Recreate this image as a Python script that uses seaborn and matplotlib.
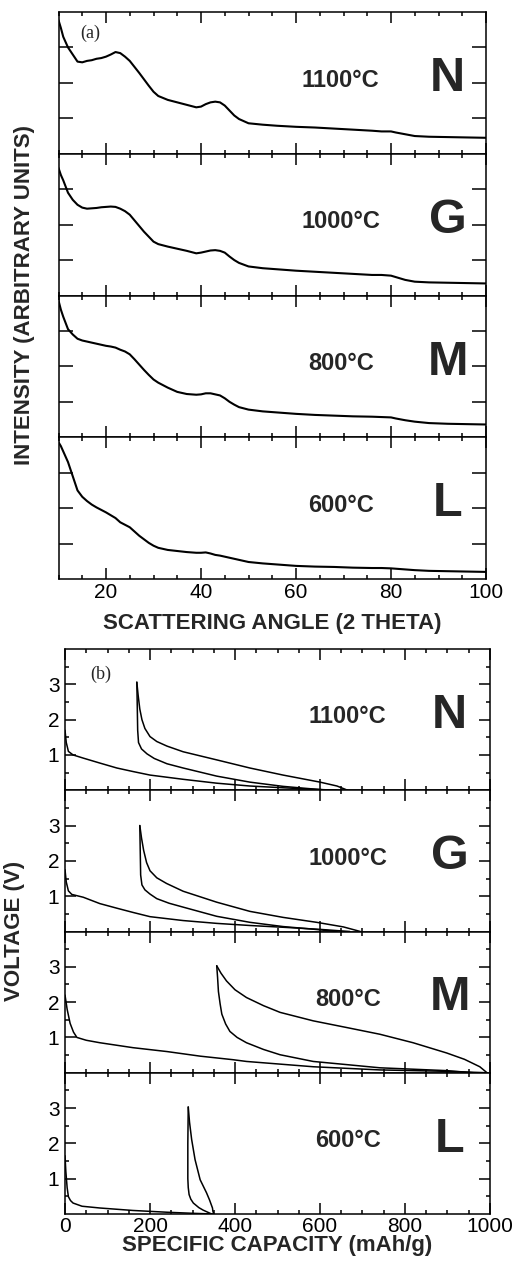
import numpy as np
import pandas as pd
import matplotlib
matplotlib.use("Agg")
import matplotlib.pyplot as plt
from matplotlib.ticker import MultipleLocator, FixedLocator, NullFormatter
import seaborn as sns

# ---- data ----
samples = ["N", "G", "M", "L"]
temps = ["1100°C", "1000°C", "800°C", "600°C"]

# (a) XRD patterns, intensity in arbitrary units (panel scale 0-4)
angle = [10, 10.5, 11, 12, 13, 14, 15, 16, 17, 18, 19, 20, 21, 22, 23, 24, 25, 26, 27, 28,
         29, 30, 31, 33, 35, 37, 39, 40, 41, 42, 43, 44, 45, 46, 47, 48, 50, 53, 56, 60,
         64, 68, 72, 76, 78, 80, 81, 83, 85, 88, 92, 96, 100]
xrd_N = [3.77, 3.55, 3.30, 3.00, 2.80, 2.60, 2.58, 2.62, 2.64, 2.68, 2.70, 2.74, 2.80, 2.87,
         2.84, 2.74, 2.62, 2.45, 2.28, 2.10, 1.92, 1.75, 1.63, 1.52, 1.45, 1.38, 1.31, 1.33,
         1.40, 1.45, 1.47, 1.45, 1.36, 1.22, 1.08, 0.98, 0.86, 0.82, 0.79, 0.76, 0.74, 0.71,
         0.68, 0.65, 0.63, 0.63, 0.60, 0.55, 0.50, 0.48, 0.47, 0.46, 0.45]
xrd_G = [3.60, 3.40, 3.25, 2.90, 2.70, 2.56, 2.48, 2.45, 2.46, 2.47, 2.49, 2.50, 2.51, 2.50,
         2.45, 2.38, 2.28, 2.12, 1.96, 1.80, 1.66, 1.52, 1.45, 1.38, 1.32, 1.26, 1.19, 1.21,
         1.24, 1.27, 1.28, 1.26, 1.21, 1.10, 1.00, 0.92, 0.82, 0.77, 0.74, 0.70, 0.67, 0.64,
         0.61, 0.58, 0.58, 0.56, 0.52, 0.44, 0.39, 0.37, 0.36, 0.35, 0.34]
xrd_M = [3.86, 3.60, 3.40, 3.05, 2.90, 2.78, 2.73, 2.70, 2.67, 2.64, 2.61, 2.58, 2.56, 2.53,
         2.47, 2.42, 2.34, 2.20, 2.05, 1.90, 1.76, 1.63, 1.54, 1.40, 1.28, 1.22, 1.20, 1.21,
         1.24, 1.24, 1.21, 1.18, 1.10, 1.00, 0.92, 0.85, 0.78, 0.73, 0.70, 0.66, 0.63, 0.61,
         0.59, 0.58, 0.57, 0.56, 0.53, 0.48, 0.44, 0.40, 0.38, 0.37, 0.36]
xrd_L = [3.86, 3.75, 3.60, 3.30, 2.90, 2.50, 2.32, 2.20, 2.10, 2.02, 1.95, 1.88, 1.80, 1.72,
         1.60, 1.53, 1.46, 1.34, 1.22, 1.12, 1.02, 0.94, 0.88, 0.82, 0.79, 0.76, 0.74, 0.74,
         0.75, 0.72, 0.68, 0.66, 0.63, 0.60, 0.57, 0.54, 0.48, 0.44, 0.41, 0.37, 0.35, 0.34,
         0.32, 0.31, 0.31, 0.30, 0.29, 0.27, 0.25, 0.23, 0.22, 0.21, 0.20]
xrd = [xrd_N, xrd_G, xrd_M, xrd_L]

# (b) voltage profiles: first discharge, charge, second discharge
N_d1_cap = [0, 3, 8, 19, 43, 82, 122, 160, 200, 278, 357, 435, 513, 580, 640]
N_d1_v = [1.7, 1.35, 1.1, 1.0, 0.91, 0.77, 0.63, 0.53, 0.43, 0.31, 0.20, 0.12, 0.07, 0.03, 0.0]
N_ch_cap = [665, 640, 600, 513, 435, 357, 278, 240, 216, 200, 188, 181, 176, 172, 169]
N_ch_v = [0.0, 0.12, 0.23, 0.43, 0.63, 0.86, 1.09, 1.25, 1.38, 1.52, 1.75, 2.0, 2.3, 2.7, 3.06]
N_d2_cap = [169, 170, 171, 173, 180, 193, 210, 240, 278, 357, 435, 513, 570, 620]
N_d2_v = [3.06, 2.4, 1.7, 1.35, 1.17, 1.03, 0.90, 0.75, 0.63, 0.40, 0.23, 0.11, 0.05, 0.0]

G_d1_cap = [0, 3, 8, 16, 43, 82, 122, 160, 200, 278, 357, 435, 513, 600, 670]
G_d1_v = [1.75, 1.4, 1.15, 1.05, 0.97, 0.79, 0.66, 0.54, 0.42, 0.31, 0.23, 0.17, 0.12, 0.06, 0.0]
G_ch_cap = [695, 655, 592, 513, 435, 357, 278, 239, 216, 200, 192, 185, 180, 176]
G_ch_v = [0.0, 0.13, 0.26, 0.40, 0.57, 0.83, 1.14, 1.36, 1.52, 1.72, 1.95, 2.3, 2.65, 3.0]
G_d2_cap = [176, 177, 178, 181, 188, 200, 216, 245, 278, 357, 435, 513, 580, 640]
G_d2_v = [3.0, 2.3, 1.6, 1.32, 1.18, 1.06, 0.93, 0.80, 0.69, 0.43, 0.26, 0.14, 0.07, 0.0]

M_d1_cap = [0, 5, 12, 20, 28, 50, 82, 160, 240, 318, 395, 427, 584, 741, 898, 993]
M_d1_v = [2.2, 1.8, 1.4, 1.15, 1.0, 0.92, 0.85, 0.71, 0.60, 0.47, 0.37, 0.32, 0.17, 0.08, 0.04, 0.0]
M_ch_cap = [993, 976, 940, 898, 819, 741, 663, 584, 506, 467, 427, 400, 380, 367, 357]
M_ch_v = [0.0, 0.17, 0.38, 0.56, 0.85, 1.09, 1.28, 1.47, 1.71, 1.9, 2.13, 2.35, 2.6, 2.82, 3.03]
M_d2_cap = [357, 359, 361, 365, 369, 378, 388, 405, 427, 467, 506, 584, 663, 741, 898, 960]
M_d2_v = [3.03, 2.7, 2.3, 1.95, 1.66, 1.38, 1.17, 1.0, 0.85, 0.66, 0.51, 0.32, 0.23, 0.14, 0.06, 0.0]

L_d1_cap = [0, 2, 5, 8, 13, 19, 40, 82, 160, 240, 300, 350]
L_d1_v = [1.65, 1.2, 0.75, 0.49, 0.38, 0.31, 0.22, 0.17, 0.10, 0.05, 0.02, 0.0]
L_ch_cap = [350, 348, 347, 340, 333, 318, 306, 298, 293, 290]
L_ch_v = [0.0, 0.08, 0.17, 0.4, 0.6, 0.97, 1.54, 2.11, 2.6, 3.03]
L_d2_cap = [290, 289, 289, 290, 292, 296, 302, 315, 325, 345]
L_d2_v = [3.03, 2.0, 1.0, 0.75, 0.55, 0.42, 0.31, 0.18, 0.11, 0.0]

cycles = {
    "N": [(N_d1_cap, N_d1_v), (N_ch_cap, N_ch_v), (N_d2_cap, N_d2_v)],
    "G": [(G_d1_cap, G_d1_v), (G_ch_cap, G_ch_v), (G_d2_cap, G_d2_v)],
    "M": [(M_d1_cap, M_d1_v), (M_ch_cap, M_ch_v), (M_d2_cap, M_d2_v)],
    "L": [(L_d1_cap, L_d1_v), (L_ch_cap, L_ch_v), (L_d2_cap, L_d2_v)],
}

# ---- style ----
sns.set_style("ticks")
bold = ["Liberation Sans Narrow", "Liberation Sans"]
plt.rcParams["font.family"] = bold
plt.rcParams["axes.linewidth"] = 1.1

W, H = 514, 1266
fig = plt.figure(figsize=(W / 100, H / 100), dpi=100)


def frac_box(left, right, top, bottom):
    return [left / W, 1 - bottom / H, (right - left) / W, (bottom - top) / H]


def style_ax(ax, xmaj, xmin, ymaj, ymin=None):
    ax.xaxis.set_major_locator(MultipleLocator(xmaj))
    ax.xaxis.set_minor_locator(MultipleLocator(xmin))
    ax.yaxis.set_major_locator(FixedLocator(ymaj))
    if ymin is not None:
        ax.yaxis.set_minor_locator(FixedLocator(ymin))
    ax.tick_params(which="both", direction="in", top=True, right=True,
                   width=1.1, colors="black")
    ax.tick_params(which="major", length=8)
    ax.tick_params(which="minor", length=3)
    for s in ax.spines.values():
        s.set_color("black")
    ax.set_xlabel("")
    ax.set_ylabel("")


# ---- (a) XRD ----
a_top, a_h = 12, 141.75
for i, name in enumerate(samples):
    top = a_top + i * a_h
    ax = fig.add_axes(frac_box(58.5, 486, top, top + a_h))
    df = pd.DataFrame({"angle": angle, "intensity": xrd[i]})
    sns.lineplot(data=df, x="angle", y="intensity", color="black", lw=1.5,
                 estimator=None, sort=False, ax=ax)
    ax.set_xlim(10, 100)
    ax.set_ylim(0, 4)
    style_ax(ax, 20, 5, [1, 2, 3])
    ax.yaxis.set_major_formatter(NullFormatter())
    ax.tick_params(axis="y", which="major", length=10)
    if i < 3:
        ax.xaxis.set_major_formatter(NullFormatter())
    else:
        ax.tick_params(axis="x", labelsize=15, pad=3)
        ax.set_xticks([20, 40, 60, 80, 100])
    ax.text(0.66, 0.52, temps[i], transform=ax.transAxes, ha="center", va="center",
            fontsize=17, fontweight="bold")
    ax.text(0.91, 0.53, name, transform=ax.transAxes, ha="center", va="center",
            fontsize=35, fontweight="bold")
    if i == 0:
        ax.text(0.05, 0.85, "(a)", transform=ax.transAxes, ha="left", va="center",
                fontsize=13, family="Liberation Serif")

# ---- (b) voltage ----
b_top, b_h = 649, 141.25
for i, name in enumerate(samples):
    top = b_top + i * b_h
    ax = fig.add_axes(frac_box(65, 490, top, top + b_h))
    rows = []
    for k, (c, v) in enumerate(cycles[name]):
        rows.append(pd.DataFrame({"capacity": c, "voltage": v, "seg": k}))
    df = pd.concat(rows, ignore_index=True)
    sns.lineplot(data=df, x="capacity", y="voltage", units="seg", estimator=None,
                 sort=False, color="black", lw=1.1, legend=False, ax=ax)
    ax.set_xlim(0, 1000)
    ax.set_ylim(0, 4)
    style_ax(ax, 200, 50, [1, 2, 3], [0.5, 1.5, 2.5, 3.5])
    ax.set_yticklabels(["1", "2", "3"])
    ax.tick_params(axis="y", labelsize=15, pad=4)
    if i < 3:
        ax.xaxis.set_major_formatter(NullFormatter())
    else:
        ax.tick_params(axis="x", labelsize=15, pad=2)
    ax.text(0.665, 0.52, temps[i], transform=ax.transAxes, ha="center", va="center",
            fontsize=17, fontweight="bold")
    ax.text(0.905, 0.53, name, transform=ax.transAxes, ha="center", va="center",
            fontsize=35, fontweight="bold")
    if i == 0:
        ax.text(0.06, 0.82, "(b)", transform=ax.transAxes, ha="left", va="center",
                fontsize=13, family="Liberation Serif")

# ---- axis titles ----
fig.text(272 / W, 1 - 623 / H, "SCATTERING ANGLE (2 THETA)", ha="center", va="center",
         fontsize=16, fontweight="bold")
fig.text(25 / W, 1 - 295 / H, "INTENSITY (ARBITRARY UNITS)", ha="center", va="center",
         rotation=90, fontsize=16, fontweight="bold")
fig.text(277 / W, 1 - 1245 / H, "SPECIFIC CAPACITY (mAh/g)", ha="center", va="center",
         fontsize=16, fontweight="bold")
fig.text(15 / W, 1 - 931 / H, "VOLTAGE (V)", ha="center", va="center",
         rotation=90, fontsize=16, fontweight="bold")

fig.savefig("out.png", dpi=100, facecolor="white")
